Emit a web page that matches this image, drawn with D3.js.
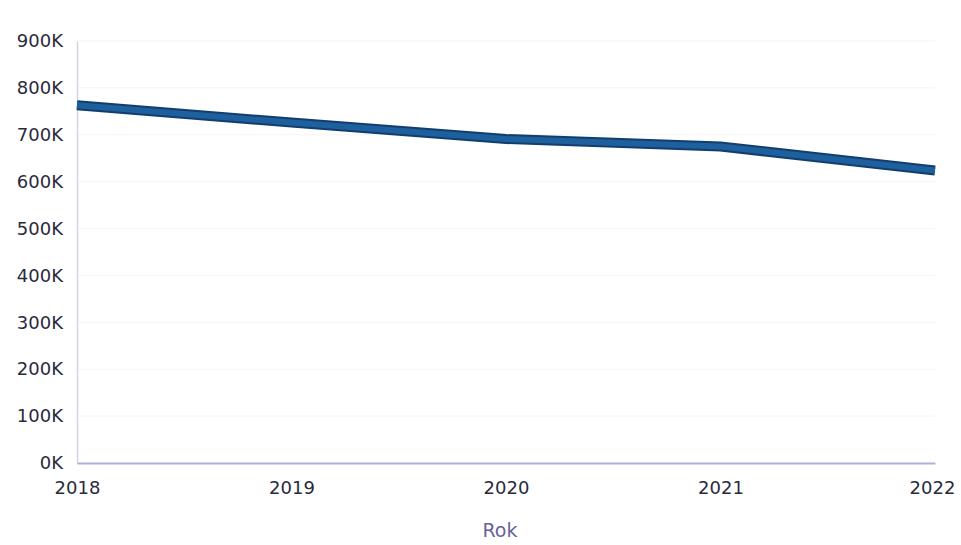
<!DOCTYPE html>
<html><head><meta charset="utf-8">
<script src="https://cdn.jsdelivr.net/npm/d3@7"></script>
<style>body{margin:0;background:#fff}</style>
</head><body>
<svg id="c" width="961" height="545"></svg>
<script>
const years = [2018, 2019, 2020, 2021, 2022];
const values = [763000, 726000, 691000, 675000, 624000];
const yTicks = [0, 100000, 200000, 300000, 400000, 500000, 600000, 700000, 800000, 900000];
const xLabel = "Rok";

const svg = d3.select("#c");
const m = {l: 77, r: 26, t: 41, b: 82};
const W = 961, H = 545;
const x = d3.scaleLinear().domain([2018, 2022]).range([m.l, W - m.r]);
const y = d3.scaleLinear().domain([0, 900000]).range([H - m.b, m.t]);
const font = "'DejaVu Sans', sans-serif";

// grid
svg.append("g").selectAll("line").data(yTicks.slice(1)).join("line")
  .attr("x1", m.l).attr("x2", W - m.r)
  .attr("y1", d => y(d)).attr("y2", d => y(d))
  .attr("stroke", "#f3f3f7").attr("stroke-width", 1);

// y axis
const ya = svg.append("g").attr("transform", `translate(${m.l},0)`)
  .call(d3.axisLeft(y).tickValues(yTicks).tickSize(0).tickPadding(14)
    .tickFormat(d => (d / 1000) + "K"));
ya.select(".domain").attr("stroke", "#d4d2e6").attr("stroke-width", 1.5);
ya.selectAll("text").attr("font-family", font).attr("font-size", 18).attr("fill", "#2a2a3e");

// x axis
const xa = svg.append("g").attr("transform", `translate(0,${y(0)})`)
  .call(d3.axisBottom(x).tickValues(years).tickSize(0).tickPadding(18).tickFormat(d3.format("d")));
xa.select(".domain").attr("stroke", "#aeb0dc").attr("stroke-width", 2);
xa.selectAll("text").attr("font-family", font).attr("font-size", 18).attr("fill", "#2a2a3e");
xa.selectAll(".tick text").filter(d => d === 2022).attr("dx", -3);

// line
const line = d3.line().x((d, i) => x(years[i])).y(d => y(d));
svg.append("path").datum(values).attr("d", line)
  .attr("fill", "none").attr("stroke", "#123e6e").attr("stroke-width", 10);
svg.append("path").datum(values).attr("d", line)
  .attr("fill", "none").attr("stroke", "#1e5f9e").attr("stroke-width", 6);

// x label
svg.append("text").attr("x", 500).attr("y", 537)
  .attr("text-anchor", "middle").attr("font-family", font).attr("font-size", 19)
  .attr("fill", "#6a5fa0").text(xLabel);
</script>
</body></html>
